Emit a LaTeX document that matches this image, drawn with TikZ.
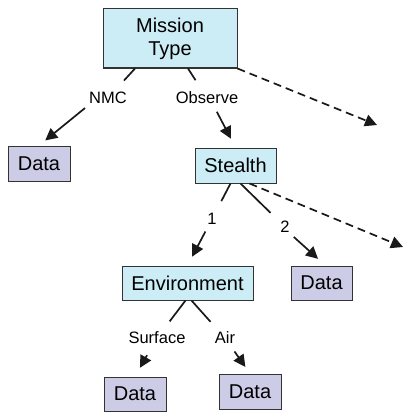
\documentclass[tikz,border=0pt]{standalone}
\usepackage{fontspec}
\setmainfont{Liberation Sans}
\usetikzlibrary{arrows.meta}

\definecolor{catblue}{RGB}{204,236,246}
\definecolor{datalilac}{RGB}{204,204,230}

\tikzset{
  catbox/.style={draw=black!80, line width=1pt, fill=catblue, align=center,
    font=\fontsize{20}{23}\selectfont, inner sep=0pt},
  databox/.style={draw=black!80, line width=1pt, fill=datalilac,
    font=\fontsize{20}{23}\selectfont, inner sep=0pt, minimum width=62pt, minimum height=35pt},
  edgelabel/.style={font=\fontsize{16.5}{19}\selectfont, inner sep=4pt},
  branch/.style={line width=1.7pt, black!90},
  tip/.style={-{Triangle[length=12pt,width=12pt]}},
}

\begin{document}
\begin{tikzpicture}[x=1pt,y=-1pt]

\useasboundingbox (0,0) rectangle (404,412);

% Boxes
\node[catbox, minimum width=134pt, minimum height=59pt] (mission) at (170,38.5) {Mission\\Type};
\node[databox] (nmcdata) at (39,163.5) {Data};
\node[catbox, minimum width=81pt, minimum height=35pt] (stealth) at (235.5,165.5) {Stealth};
\node[catbox, minimum width=131pt, minimum height=34pt] (environment) at (187.5,283) {Environment};
\node[databox, minimum height=34pt, minimum width=61pt] (twodata) at (321.5,283) {Data};
\node[databox, minimum height=34pt] (surfdata) at (135,394) {Data};
\node[databox] (airdata) at (250,391.5) {Data};

% Labels on the branches
\node[edgelabel] (nmc) at (108,98) {NMC};
\node[edgelabel] (observe) at (207,98) {Observe};
\node[edgelabel] (one) at (212,219) {1};
\node[edgelabel] (two) at (285,227) {2};
\node[edgelabel] (surface) at (157,338) {Surface};
\node[edgelabel] (air) at (225,338) {Air};

% Loose ends of the dashed branches
\coordinate (moremission) at (377,125);
\coordinate (morestealth) at (403,247);

% Mission type branches
\draw[branch, shorten >=10pt] ([xshift=-35pt]mission.south) -- (nmc);
\draw[branch, tip, shorten >=8pt] (nmc.south west) -- (nmcdata.north);
\draw[branch, shorten >=9pt] ([xshift=18pt]mission.south) -- (observe);
\draw[branch, tip, shorten <=4pt, shorten >=10pt] ([xshift=8pt]observe.south) -- (stealth.north);
\draw[branch, tip, dash pattern=on 8pt off 5pt] (mission.south east) -- (moremission);

% Stealth branches
\draw[branch, shorten >=9pt] ([xshift=-5pt]stealth.south) -- (one);
\draw[branch, tip, shorten <=3pt, shorten >=10pt] (one) -- (environment.north);
\draw[branch, shorten >=8pt] ([xshift=5pt]stealth.south) -- (two);
\draw[branch, tip, shorten >=10pt] (two.south east) -- ([xshift=4pt]twodata.north);
\draw[branch, tip, dash pattern=on 8pt off 5pt] ([xshift=14pt]stealth.south) -- (morestealth);

% Environment branches
\draw[branch, shorten >=8pt] ([xshift=-2pt]environment.south) -- (surface);
\draw[branch, tip, shorten <=8pt, shorten >=10pt] ([xshift=-6pt]surface.south) -- (surfdata.north);
\draw[branch, shorten >=8pt] ([xshift=4pt]environment.south) -- (air);
\draw[branch, tip, shorten <=4pt, shorten >=8pt] (air) -- (airdata.north);

\end{tikzpicture}
\end{document}
